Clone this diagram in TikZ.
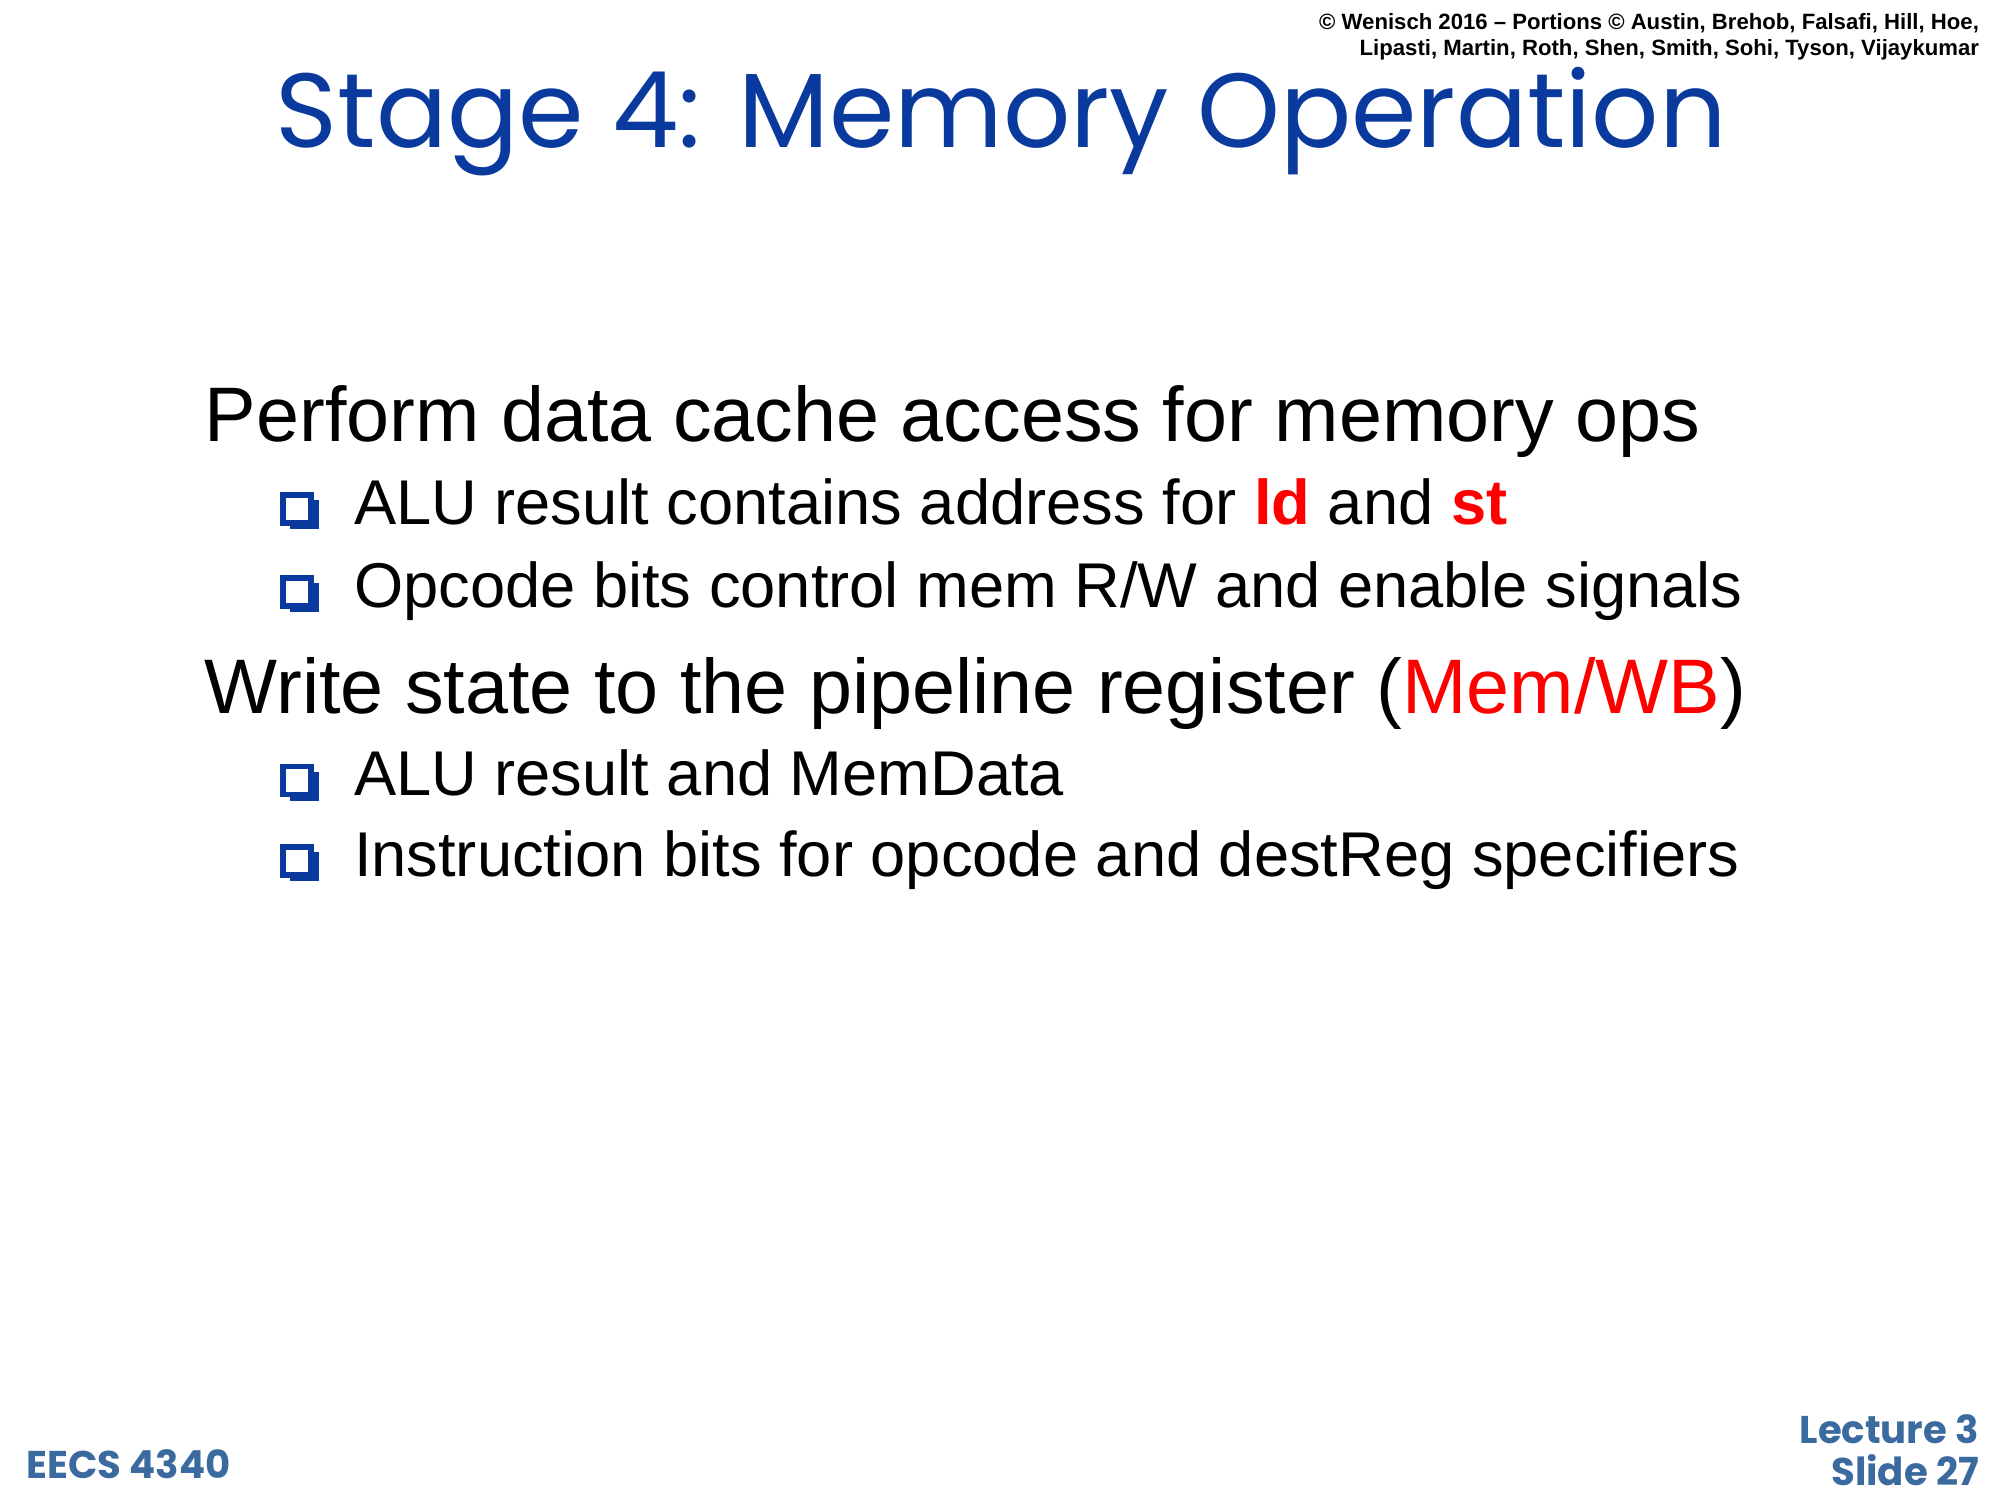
\documentclass[tikz,border=0pt]{standalone}
\usepackage{fontspec}
\setmainfont{Liberation Sans}
\newfontfamily\titlefont{Poppins}
\definecolor{ttl}{HTML}{0A3A9E}
\definecolor{foot}{HTML}{3A6A9E}
\definecolor{bul}{HTML}{0A3A9E}
\begin{document}
\begin{tikzpicture}[x=0.012755cm,y=-0.012755cm,
  main/.style={anchor=base west,inner sep=0,font=\fontsize{22}{26}\selectfont},
  sub/.style={anchor=base west,inner sep=0,font=\fontsize{18}{22}\selectfont},
  foottxt/.style={inner sep=0,text=foot,font=\titlefont\bfseries\fontsize{11}{12}\selectfont}]
\useasboundingbox (0,0) rectangle (1568,1176);
\node[inner sep=0,text=ttl,font=\titlefont\fontsize{30}{34}\selectfont] (title) at (785,95) {Stage 4: Memory Operation};
\node[anchor=north east,inner sep=0,align=right,font=\bfseries\fontsize{6.3}{7.4}\selectfont] (copy) at (1552,10) {© Wenisch 2016 -- Portions © Austin, Brehob, Falsafi, Hill, Hoe,\\Lipasti, Martin, Roth, Shen, Smith, Sohi, Tyson, Vijaykumar};
\node[main] (p1) at (160,346) {Perform data cache access for memory ops};
\node[sub] (s1) at (277,411) {ALU result contains address for \textcolor{red}{\bfseries ld} and \textcolor{red}{\bfseries st}};
\node[sub] (s2) at (277,476) {Opcode bits control mem R/W and enable signals};
\node[main] (p2) at (160,559) {Write state to the pipeline register (\textcolor{red}{Mem/WB})};
\node[sub] (s3) at (277,624) {ALU result and MemData};
\node[sub] (s4) at (277,687) {Instruction bits for opcode and destReg specifiers};
\foreach \y in {400,465,613,676}{
  \fill[bul] (227,\y-8) rectangle (250,\y+15);
  \fill[white] (222,\y-12) rectangle (244,\y+10);
  \draw[bul,line width=1.6pt] (222,\y-12) rectangle (244,\y+10);
}
\node[foottxt,anchor=west] (eecs) at (20,1148) {EECS 4340};
\node[foottxt,anchor=east,align=right] (lec) at (1552,1137) {Lecture 3\\Slide 27};
\end{tikzpicture}
\end{document}
